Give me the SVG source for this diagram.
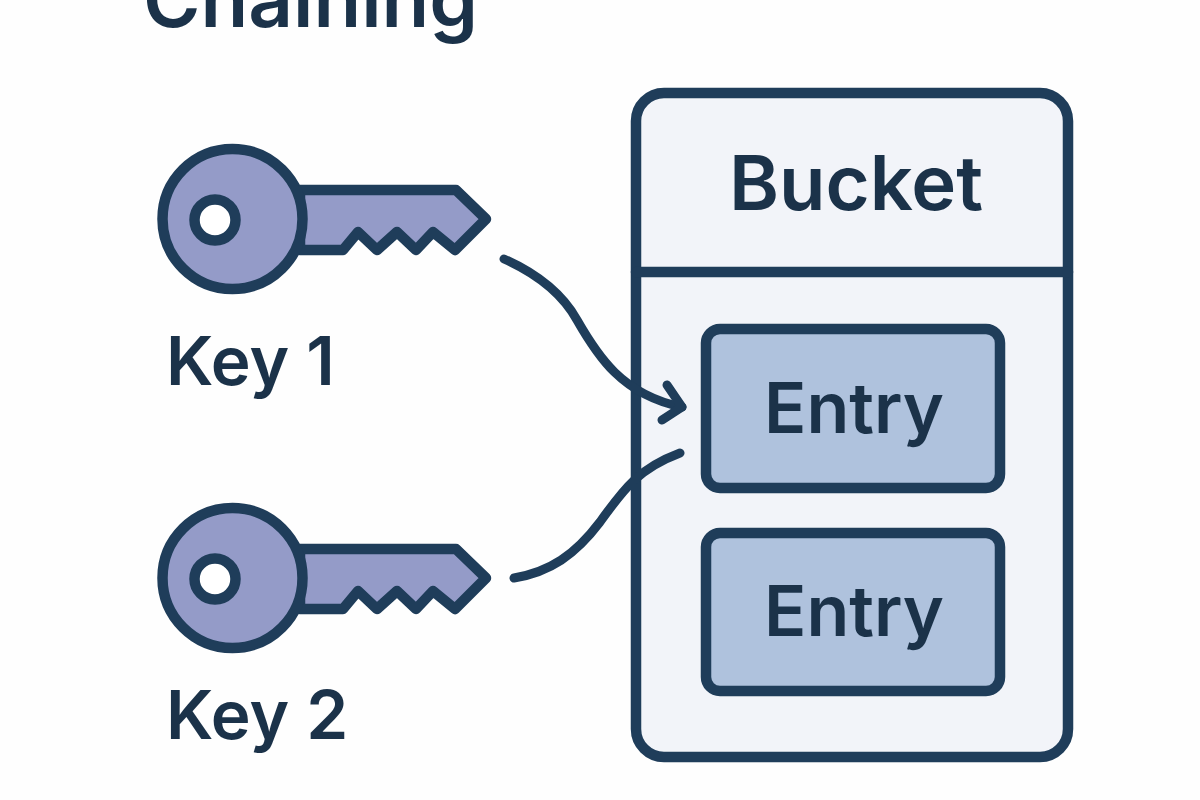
<svg xmlns="http://www.w3.org/2000/svg" width="1200" height="800" viewBox="0 0 1200 800">
<style>
.l{stroke:#1f3d5a;stroke-width:10.500;stroke-linejoin:round;stroke-linecap:round}
.k{fill:#949bc8}
.t{fill:#1b3249;font-family:"Inter","Liberation Sans",sans-serif;font-weight:600}
.c{fill:none;stroke:#1f3d5a;stroke-width:9;stroke-linecap:round;stroke-linejoin:round}
.e{fill:#afc2dd}
</style>
<defs>
<g id="key">
<path class="l k" d="M300 190H456L486 219L455 250L433 232L416 250L397 232L377 250L358 232L343 250H300Z"/>
<circle class="l k" cx="232.500" cy="219" r="70"/>
<circle class="l" fill="#fff" cx="215" cy="220" r="20.500"/>
</g>
</defs>
<rect width="1200" height="800" fill="#fefefe"/>
<text id="title" class="t" x="143" y="27" font-size="78">Chaining</text>
<g id="key1"><use href="#key"/><text class="t" x="166" y="385" font-size="67.500">Key 1</text></g>
<g id="key2"><use href="#key" y="359"/><text class="t" x="166" y="739" font-size="67.500">Key 2</text></g>
<g id="bucket">
<rect class="l" fill="#f2f4f9" x="636" y="93" width="432" height="664" rx="28"/>
<path class="l" d="M636 272H1068"/>
<text class="t" x="856" y="210" font-size="76" text-anchor="middle">Bucket</text>
</g>
<g id="entry1"><rect class="l e" x="706" y="329" width="294" height="159" rx="14"/><text class="t" x="854" y="433" font-size="70" text-anchor="middle">Entry</text></g>
<g id="entry2"><rect class="l e" x="706" y="533" width="294" height="158" rx="14"/><text class="t" x="854" y="636" font-size="70" text-anchor="middle">Entry</text></g>
<g id="connectors">
<path class="c" d="M504 259C540 275 563 295 577 320C597 355 622 395 682 407"/>
<path class="c" d="M667 385L682 407L662 420"/>
<path class="c" d="M514 578C550 572 575 555 600 522C625 487 640 468 680 453"/>
</g>
</svg>
